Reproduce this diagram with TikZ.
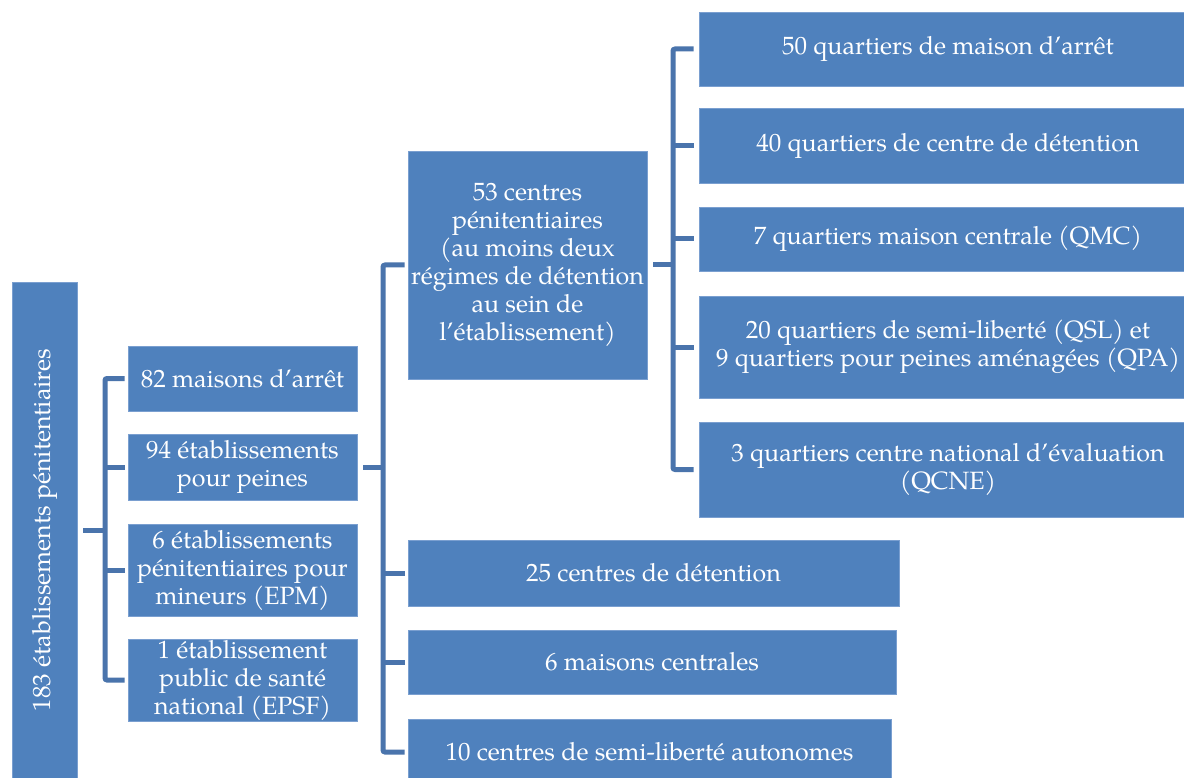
\documentclass[tikz,border=0pt]{standalone}
\usepackage{fontspec}
\setmainfont{texgyrepagella}[Extension=.otf, UprightFont=*-regular, BoldFont=*-bold, ItalicFont=*-italic, BoldItalicFont=*-bolditalic]
\definecolor{boxblue}{HTML}{4F81BD}
\definecolor{boxedge}{HTML}{7A9FD0}
\definecolor{lineblue}{HTML}{4A74AC}
\begin{document}
\begin{tikzpicture}[x=1pt,y=-1pt,
  box/.style={rectangle, fill=boxblue, draw=boxedge, line width=0.8pt, text=white, align=center, inner sep=0pt, font=\fontsize{25}{28}\selectfont},
  conn/.style={draw=lineblue, line width=5pt, rounded corners=2pt}]
\clip (0,0) rectangle (1184,778);
\fill[white] (0,0) rectangle (1184,778);
% root
\node[box, minimum width=65pt, minimum height=496pt] (root) at (44.5,530) {\rotatebox{90}{183 établissements pénitentiaires}};
% level 1
\node[box, minimum width=229pt, minimum height=65pt] (b82) at (242.5,378.5) {82 maisons d’arrêt};
\node[box, minimum width=229pt, minimum height=66pt] (b94) at (242.5,467) {94 établissements\\pour peines};
\node[box, minimum width=229pt, minimum height=92pt] (b6) at (242.5,570) {6 établissements\\pénitentiaires pour\\mineurs (EPM)};
\node[box, minimum width=229pt, minimum height=82pt] (b1) at (242.5,680) {1 établissement\\public de santé\\national (EPSF)};
% level 2
\node[box, minimum width=239pt, minimum height=228pt] (c53) at (527.5,265) {53 centres\\pénitentiaires\\(au moins deux\\régimes de détention\\au sein de\\l’établissement)};
\node[box, minimum width=491pt, minimum height=66pt] (c25) at (653.5,573) {25 centres de détention};
\node[box, minimum width=488pt, minimum height=64pt] (c6) at (652,662) {6 maisons centrales};
\node[box, minimum width=483pt, minimum height=66pt] (c10) at (649.5,752) {10 centres de semi-liberté autonomes};
% level 3
\node[box, minimum width=498pt, minimum height=74pt] (q50) at (948,49) {50 quartiers de maison d’arrêt};
\node[box, minimum width=498pt, minimum height=75pt] (q40) at (948,145.5) {40 quartiers de centre de détention};
\node[box, minimum width=498pt, minimum height=64pt] (q7) at (948,239) {7 quartiers maison centrale (QMC)};
\node[box, minimum width=498pt, minimum height=102pt] (q20) at (948,347) {20 quartiers de semi-liberté (QSL) et\\9 quartiers pour peines aménagées (QPA)};
\node[box, minimum width=498pt, minimum height=95pt] (q3) at (948,469.5) {3 quartiers centre national d’évaluation\\(QCNE)};
% connectors level 1
\coordinate (bA) at (105,530);
\draw[conn] ([xshift=-3pt]b82.west) -| (bA) |- ([xshift=-3pt]b1.west);
\draw[conn] (bA |- b94.west) -- ([xshift=-3pt]b94.west);
\draw[conn] (bA |- b6.west) -- ([xshift=-3pt]b6.west);
\draw[conn] ([xshift=6pt]root.east) -- (bA |- root.east);
% connectors level 2
\coordinate (bB) at (383,467);
\draw[conn] ([xshift=-3pt]c53.west) -| (bB) |- ([xshift=-3pt]c10.west);
\draw[conn] (bB |- c25.west) -- ([xshift=-3pt]c25.west);
\draw[conn] (bB |- c6.west) -- ([xshift=-3pt]c6.west);
\draw[conn] ([xshift=6pt]b94.east) -- (bB |- b94.east);
% connectors level 3
\coordinate (bC) at (673,265);
\draw[conn] ([xshift=-5pt]q50.west) -| (bC) |- ([xshift=-5pt]q3.west);
\draw[conn] (bC |- q40.west) -- ([xshift=-5pt]q40.west);
\draw[conn] (bC |- q7.west) -- ([xshift=-5pt]q7.west);
\draw[conn] (bC |- q20.west) -- ([xshift=-5pt]q20.west);
\draw[conn] ([xshift=6pt]c53.east) -- (bC |- c53.east);
\end{tikzpicture}
\end{document}
